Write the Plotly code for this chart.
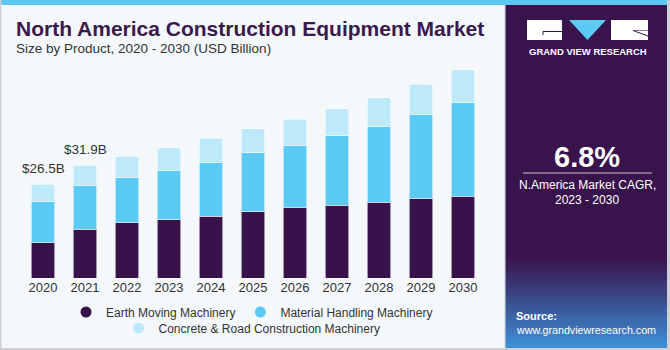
import plotly.graph_objects as go

# ---------------- data ----------------
years = ["2020", "2021", "2022", "2023", "2024", "2025", "2026", "2027", "2028", "2029", "2030"]
earth_moving = [10.0, 13.8, 15.6, 16.5, 17.5, 18.8, 20.0, 20.6, 21.5, 22.4, 23.2]
material_handling = [11.6, 12.4, 12.8, 14.0, 15.1, 16.7, 17.6, 19.7, 21.5, 24.0, 26.6]
concrete_road = [4.9, 5.7, 6.0, 6.3, 7.0, 6.8, 7.3, 7.6, 8.0, 8.4, 9.1]
series_names = ["Earth Moving Machinery", "Material Handling Machinery",
                "Concrete & Road Construction Machinery"]
value_labels = {"2020": "$26.5B", "2021": "$31.9B"}

# ---------------- style / geometry ----------------
W, H = 670, 350
ML, MR, MT, MB = 22, 186, 66, 72
PW, PH = W - ML - MR, H - MT - MB
BG = "#F4F8FB"
DARK = "#38124A"
MED = "#5BCAF5"
LIGHT = "#BDE9FA"
PANEL = "#39134B"
FONT = "Liberation Sans, Arial, sans-serif"


def px(x):
    return (x - ML) / PW


def py(y):
    return (H - MB - y) / PH


fig = go.Figure()
colors = [DARK, MED, LIGHT]
for name, vals, col in zip(series_names, [earth_moving, material_handling, concrete_road], colors):
    fig.add_trace(go.Bar(
        x=years, y=vals, name=name, marker_color=col,
        marker_line=dict(color="rgba(255,255,255,0.55)", width=1),
        showlegend=False, hoverinfo="x+y+name"))

# legend entries with circle symbols (two rows)
for i, (name, col) in enumerate(zip(series_names, colors)):
    fig.add_trace(go.Scatter(
        x=[years[0]], y=[None], mode="markers", name=name,
        marker=dict(color=col, size=11, symbol="circle"),
        legend="legend" if i < 2 else "legend2", hoverinfo="skip"))

totals = [a + b + c for a, b, c in zip(earth_moving, material_handling, concrete_road)]
annotations = []
for i, (yr, tot) in enumerate(zip(years, totals)):
    if yr in value_labels:
        annotations.append(dict(x=i, y=tot, xref="x", yref="y", text=value_labels[yr],
                                showarrow=False, xanchor="center", yanchor="middle", yshift=16,
                                font=dict(size=13.5, color="#333333", family=FONT)))


def note(xp, yp, text, size, color, anchor="center", bold=False):
    return dict(x=px(xp), y=py(yp), xref="paper", yref="paper", xanchor=anchor,
                yanchor="middle", showarrow=False,
                text=f"<b>{text}</b>" if bold else text,
                font=dict(size=size, color=color, family=FONT))


# titles
annotations.append(note(14, 28.5, "North America Construction Equipment Market", 21, "#3A1A4D",
                        "left", True))
annotations.append(note(14, 49, "Size by Product, 2020 - 2030 (USD Billion)", 13.5, "#333333",
                        "left"))

# right panel texts
annotations += [
    note(587.5, 51, "GRAND VIEW RESEARCH", 9.5, "white", bold=True),
    note(587, 157, "6.8%", 29, "white", bold=True),
    note(587, 185, "N.America Market CAGR,", 12, "white"),
    note(587, 200, "2023 - 2030", 12, "white"),
    note(514, 316, "Source:", 11, "white", "left", True),
    note(514, 329.5, "www.grandviewresearch.com", 10.7, "white", "left"),
]


def rect(x0, y0, x1, y1, color, layer="below"):
    return dict(type="rect", xref="paper", yref="paper", x0=px(x0), x1=px(x1),
                y0=py(y1), y1=py(y0), fillcolor=color, line_width=0, layer=layer)


def hexmix(c1, c2, t):
    a = [int(c1[i:i + 2], 16) for i in (1, 3, 5)]
    b = [int(c2[i:i + 2], 16) for i in (1, 3, 5)]
    return "#" + "".join(f"{round(p + (q - p) * t):02x}" for p, q in zip(a, b))


shapes = []
# right panel with gradient at bottom
shapes.append(rect(505, 5, 667, 348, PANEL))
g0, g1 = 255, 348
nb = 30
for i in range(nb):
    y0 = g0 + (g1 - g0) * i / nb
    y1 = g0 + (g1 - g0) * (i + 1) / nb + 0.5
    t = ((i + 0.5) / nb) ** 1.1
    shapes.append(rect(505, y0, 667, min(y1, 348), hexmix(PANEL, "#3E92D8", t)))
# top strip
shapes.append(rect(0, 0, 667, 5, "#5CC8F2"))
# borders
shapes.append(rect(0, 0, 1.5, 350, "#CFCFD4"))
shapes.append(rect(0, 348, 670, 350, "#CFCFD4"))
shapes.append(rect(667, 0, 670, 350, "#CFCFD4"))
shapes.append(rect(504, 5, 505.5, 348, "#DCE3EA"))
# logo
shapes.append(rect(527, 20, 562, 40, "white"))
shapes.append(rect(611, 20, 648, 40, "white"))
shapes.append(dict(type="path", xref="paper", yref="paper",
                   path=f"M {px(569)},{py(20)} L {px(606)},{py(20)} L {px(587.5)},{py(40)} Z",
                   fillcolor=MED, line_width=0, layer="below"))
shapes.append(dict(type="line", xref="paper", yref="paper", x0=px(543), x1=px(562),
                   y0=py(31.5), y1=py(31.5), line=dict(color=PANEL, width=1)))
shapes.append(dict(type="line", xref="paper", yref="paper", x0=px(543), x1=px(543),
                   y0=py(31.5), y1=py(35), line=dict(color=PANEL, width=1)))
shapes.append(dict(type="line", xref="paper", yref="paper", x0=px(633), x1=px(648),
                   y0=py(30.5), y1=py(36), line=dict(color=PANEL, width=1)))
shapes.append(dict(type="line", xref="paper", yref="paper", x0=px(633), x1=px(648),
                   y0=py(30.5), y1=py(30.5), line=dict(color=PANEL, width=0.6)))
# divider under CAGR
shapes.append(dict(type="line", xref="paper", yref="paper", x0=px(523), x1=px(652),
                   y0=py(173), y1=py(173), line=dict(color="#C9C2D2", width=1)))

legend_common = dict(orientation="h", xref="container", yref="container", xanchor="center",
                     yanchor="middle", bgcolor="rgba(0,0,0,0)", itemwidth=30,
                     traceorder="normal",
                     font=dict(size=12, color="#333333", family=FONT), tracegroupgap=0,
                     itemclick=False, itemdoubleclick=False)

fig.update_layout(
    width=W, height=H, autosize=False,
    margin=dict(l=ML, r=MR, t=MT, b=MB, pad=0),
    paper_bgcolor=BG, plot_bgcolor=BG,
    barmode="stack", bargap=0.43, barcornerradius=3,
    font=dict(family=FONT, color="#333333"),
    xaxis=dict(type="category", categoryorder="array", categoryarray=years,
               range=[-0.5, len(years) - 0.5], showgrid=False, zeroline=False, showline=False,
               ticks="", tickfont=dict(size=13, color="#333333", family=FONT), fixedrange=True,
               automargin=False),
    yaxis=dict(range=[0, 60], visible=False, showgrid=False, zeroline=False, fixedrange=True),
    legend=dict(x=252 / W, y=(H - 312) / H, **legend_common),
    legend2=dict(x=252 / W, y=(H - 328) / H, **legend_common),
    annotations=annotations,
    shapes=shapes,
)

fig.write_html("out.html")
